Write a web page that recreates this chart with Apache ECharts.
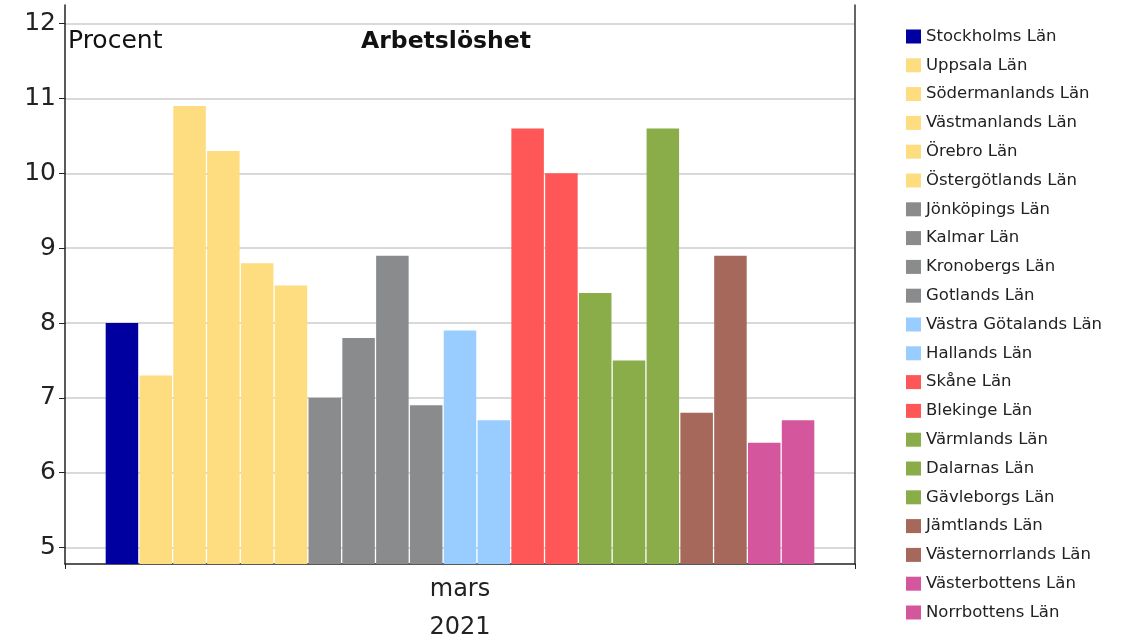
<!DOCTYPE html>
<html>
<head>
<meta charset="utf-8">
<script src="https://cdn.jsdelivr.net/npm/echarts@6/dist/echarts.min.js"></script>
<style>html,body{margin:0;padding:0;background:#fff}#c{width:1125px;height:642px}</style>
</head>
<body>
<div id="c"></div>
<script>
const categories = ['mars\n2021'];
const regions = ['Stockholms Län','Uppsala Län','Södermanlands Län','Västmanlands Län','Örebro Län','Östergötlands Län','Jönköpings Län','Kalmar Län','Kronobergs Län','Gotlands Län','Västra Götalands Län','Hallands Län','Skåne Län','Blekinge Län','Värmlands Län','Dalarnas Län','Gävleborgs Län','Jämtlands Län','Västernorrlands Län','Västerbottens Län','Norrbottens Län'];
const values = [8.0, 7.3, 10.9, 10.3, 8.8, 8.5, 7.0, 7.8, 8.9, 6.9, 7.9, 6.7, 10.6, 10.0, 8.4, 7.5, 10.6, 6.8, 8.9, 6.4, 6.7];
const colors = ['#0000a0','#fddd80','#fddd80','#fddd80','#fddd80','#fddd80','#8a8b8d','#8a8b8d','#8a8b8d','#8a8b8d','#99ccff','#99ccff','#ff5757','#ff5757','#8aad4a','#8aad4a','#8aad4a','#a5685a','#a5685a','#d4569c','#d4569c'];
const title = 'Arbetslöshet';
const unitLabel = 'Procent';

const FONT = 'DejaVu Sans';
const series = regions.map((name, i) => ({
  name: name,
  type: 'bar',
  data: [values[i]],
  itemStyle: { color: colors[i] },
  barGap: '4%',
  barCategoryGap: '10.3%',
  animation: false
}));

const chart = echarts.init(document.getElementById('c'), null, { renderer: 'canvas' });
chart.setOption({
  animation: false,
  color: colors,
  graphic: [{
    type: 'text', left: 68, top: 29,
    style: { text: unitLabel, fontFamily: FONT, fontSize: 25, fill: '#111' }
  }, {
    type: 'text', x: 446, y: 42,
    style: { text: title, fontFamily: FONT, fontSize: 23.5, fontWeight: 'bold', fill: '#111', align: 'center', verticalAlign: 'middle' }
  }],
  legend: {
    orient: 'vertical', left: 901, top: 23,
    itemWidth: 15, itemHeight: 14, itemGap: 11.8, icon: 'rect',
    textStyle: { fontFamily: FONT, fontSize: 16.5, color: '#222' },
    data: regions
  },
  grid: { left: 65, right: 270, top: 5, bottom: 78, containLabel: false, outerBoundsMode: 'none' },
  xAxis: {
    type: 'category', data: categories,
    axisLine: { lineStyle: { color: '#222', width: 1.5 } },
    axisTick: { show: true, length: 5, lineStyle: { color: '#222' } },
    axisLabel: { fontFamily: FONT, fontSize: 24, color: '#222', lineHeight: 38, margin: 7 }
  },
  yAxis: [{
    type: 'value', min: 4.78, max: 12.25, minInterval: 1, maxInterval: 1,
    axisLine: { show: true, lineStyle: { color: '#222', width: 1.5 } },
    axisTick: { show: true, length: 6, lineStyle: { color: '#222' } },
    axisLabel: { fontFamily: FONT, fontSize: 25, color: '#222', margin: 9, padding: [4, 0, 0, 0], showMinLabel: false, showMaxLabel: false },
    splitLine: { show: true, showMinLine: false, showMaxLine: false, lineStyle: { color: '#cccccc', width: 1.5 } }
  }, {
    type: 'value', position: 'right', min: 4.78, max: 12.25,
    axisLine: { show: true, lineStyle: { color: '#333', width: 1.5 } },
    axisTick: { show: false }, axisLabel: { show: false }, splitLine: { show: false }
  }],
  series: series
});
</script>
</body>
</html>
